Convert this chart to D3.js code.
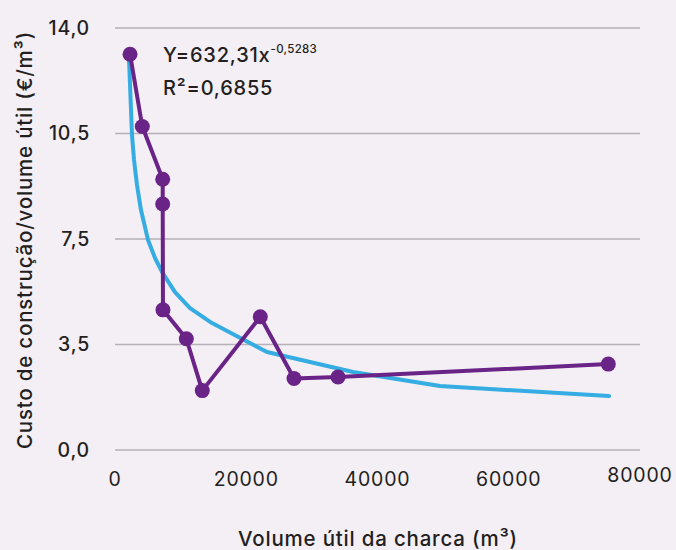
<!DOCTYPE html>
<html>
<head>
<meta charset="utf-8">
<script src="https://cdn.jsdelivr.net/npm/d3@7"></script>
<style>
  body { margin: 0; background: #f4eef5; }
  svg { display: block; font-family: Inter, "Open Sans", sans-serif; }
</style>
</head>
<body>
<svg width="676" height="550"></svg>
<script>
'use strict';

// observed values (volume in m3, cost in EUR/m3)
const volume = [2290, 4160, 7270, 7270, 7310, 10870, 13300, 22140, 27280, 33980, 75170];
const cost = [13.13, 10.73, 8.98, 8.16, 4.65, 3.69, 1.97, 4.42, 2.37, 2.42, 2.85];

// power trend line as drawn in the picture
const trendX = [2130, 2590, 2900, 3350, 3960, 5030, 6100, 7160, 9140, 11430, 14780, 23160, 36270, 49520, 75280];
const trendY = [13.0, 10.45, 9.62, 8.79, 7.96, 6.97, 6.37, 5.91, 5.24, 4.71, 4.21, 3.25, 2.59, 2.12, 1.79];

const yTicks = [0, 3.5, 7, 10.5, 14];
const yTickLabels = ["0,0", "3,5", "7,5", "10,5", "14,0"];
const xTicks = [0, 20000, 40000, 60000, 80000];

const svg = d3.select("svg");
const x = d3.scaleLinear().domain([0, 80000]).range([115, 640]);
const y = d3.scaleLinear().domain([0, 14]).range([450, 28]);

// gridlines
svg.append("g")
	.selectAll("line")
	.data(yTicks)
	.enter().append("line")
	.attr("x1", x(0))
	.attr("x2", x(80000))
	.attr("y1", d => y(d))
	.attr("y2", d => y(d))
	.attr("stroke", "#b5b1b6")
	.attr("stroke-width", 1.6);

// y tick labels
svg.append("g")
	.selectAll("text")
	.data(yTicks)
	.enter().append("text")
	.attr("x", 90)
	.attr("y", d => y(d))
	.attr("dy", "0.35em")
	.attr("text-anchor", "end")
	.attr("font-size", 19.5)
	.attr("font-weight", 500)
	.attr("letter-spacing", 0.8)
	.attr("fill", "#231f20")
	.text((d, i) => yTickLabels[i]);

// x tick labels
svg.append("g")
	.selectAll("text")
	.data(xTicks)
	.enter().append("text")
	.attr("x", d => x(d))
	.attr("y", (d, i) => i == xTicks.length - 1 ? 475 : 479)
	.attr("dy", "0.35em")
	.attr("text-anchor", "middle")
	.attr("font-size", 19.5)
	.attr("font-weight", 400)
	.attr("letter-spacing", 0.8)
	.attr("fill", "#231f20")
	.text(d => d);

// trend line
const trendLine = d3.line()
	.x((d, i) => x(trendX[i]))
	.y(d => y(d));
svg.append("path")
	.datum(trendY)
	.attr("d", trendLine)
	.attr("fill", "none")
	.attr("stroke", "#35ace2")
	.attr("stroke-width", 4)
	.attr("stroke-linejoin", "round")
	.attr("stroke-linecap", "round");

// data series
const dataLine = d3.line()
	.x((d, i) => x(volume[i]))
	.y(d => y(d));
svg.append("path")
	.datum(cost)
	.attr("d", dataLine)
	.attr("fill", "none")
	.attr("stroke", "#6a2386")
	.attr("stroke-width", 4)
	.attr("stroke-linejoin", "round");

svg.append("g")
	.selectAll("circle")
	.data(cost)
	.enter().append("circle")
	.attr("cx", (d, i) => x(volume[i]))
	.attr("cy", d => y(d))
	.attr("r", 7.5)
	.attr("fill", "#6a2386");

// equation
const eq = svg.append("text")
	.attr("x", 163)
	.attr("y", 62)
	.attr("font-size", 20)
	.attr("font-weight", 500)
	.attr("letter-spacing", 0.8)
	.attr("fill", "#231f20");
eq.append("tspan").text("Y=632,31x");
eq.append("tspan")
	.attr("dy", -9)
	.attr("font-size", 11.5)
	.attr("letter-spacing", 0.3)
	.text("-0,5283");
svg.append("text")
	.attr("x", 163)
	.attr("y", 95)
	.attr("font-size", 20)
	.attr("font-weight", 500)
	.attr("letter-spacing", 0.8)
	.attr("fill", "#231f20")
	.text("R²=0,6855");

// axis titles
svg.append("text")
	.attr("transform", "translate(32,240) rotate(-90)")
	.attr("text-anchor", "middle")
	.attr("font-size", 20.5)
	.attr("font-weight", 500)
	.attr("letter-spacing", 0.8)
	.attr("fill", "#231f20")
	.text("Custo de construção/volume útil (€/m³)");

svg.append("text")
	.attr("x", 378)
	.attr("y", 546)
	.attr("text-anchor", "middle")
	.attr("font-size", 20.5)
	.attr("font-weight", 500)
	.attr("letter-spacing", 0.8)
	.attr("fill", "#231f20")
	.text("Volume útil da charca (m³)");
</script>
</body>
</html>
